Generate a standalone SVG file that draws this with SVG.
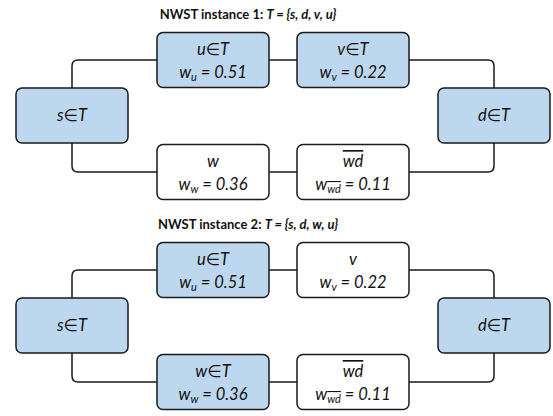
<svg xmlns="http://www.w3.org/2000/svg" width="553" height="416" viewBox="0 0 553 416">
<style>
.t{fill:#fff;stroke:#1a1a1a;stroke-width:1.5}
.b{fill:#BDD7EE;stroke:#1a1a1a;stroke-width:1.5}
.c{fill:none;stroke:#1a1a1a;stroke-width:1.5}
.x{font-family:Lato,"Liberation Sans","DejaVu Sans",sans-serif;font-style:italic;font-size:16.5px;fill:#111;text-anchor:middle}
.s{font-size:11px}
.h{font-family:Lato,"Liberation Sans",sans-serif;font-weight:bold;font-size:13px;fill:#111;text-anchor:middle}
.o{text-decoration:overline}
</style>
<rect width="553" height="416" fill="#fff"/>

<text class="h" x="248" y="19">NWST instance 1: <tspan font-style="italic">T = {s, d, v, u}</tspan></text>
<g id="conn1">
<path class="c" d="M72,88 V66 Q72,60 78,60 H157 M269,60 H297 M409,60 H488 Q494,60 494,66 V88 M72,143 V166 Q72,172 78,172 H157 M269,172 H297 M409,172 H488 Q494,172 494,166 V143"/>
</g>
<g id="i1-s"><rect class="b" x="16" y="88" width="112" height="55" rx="6"/><text class="x" x="72" y="121">s∈T</text></g>
<g id="i1-d"><rect class="b" x="438" y="88" width="112" height="55" rx="6"/><text class="x" x="494" y="121">d∈T</text></g>
<g id="i1-u"><rect class="b" x="157" y="32.5" width="112" height="55" rx="6"/><text class="x" x="213" y="55">u∈T</text><text class="x" x="213" y="78">w<tspan class="s" dy="3">u</tspan><tspan dy="-3"> = 0.51</tspan></text></g>
<g id="i1-v"><rect class="b" x="297" y="32.5" width="112" height="55" rx="6"/><text class="x" x="353" y="55">v∈T</text><text class="x" x="353" y="78">w<tspan class="s" dy="3">v</tspan><tspan dy="-3"> = 0.22</tspan></text></g>
<g id="i1-w"><rect class="t" x="157" y="144.5" width="112" height="55" rx="6"/><text class="x" x="213" y="167">w</text><text class="x" x="213" y="190">w<tspan class="s" dy="3">w</tspan><tspan dy="-3"> = 0.36</tspan></text></g>
<g id="i1-wd"><rect class="t" x="297" y="144.5" width="112" height="55" rx="6"/><text class="x" x="353" y="167"><tspan class="o">wd</tspan></text><text class="x" x="353" y="190">w<tspan class="s o" dy="3">wd</tspan><tspan dy="-3"> = 0.11</tspan></text></g>

<text class="h" x="248" y="229">NWST instance 2: <tspan font-style="italic">T = {s, d, w, u}</tspan></text>
<g id="conn2">
<path class="c" d="M72,298 V276 Q72,270 78,270 H157 M269,270 H297 M409,270 H488 Q494,270 494,276 V298 M72,353 V376 Q72,382 78,382 H157 M269,382 H297 M409,382 H488 Q494,382 494,376 V353"/>
</g>
<g id="i2-s"><rect class="b" x="16" y="298" width="112" height="55" rx="6"/><text class="x" x="72" y="331">s∈T</text></g>
<g id="i2-d"><rect class="b" x="438" y="298" width="112" height="55" rx="6"/><text class="x" x="494" y="331">d∈T</text></g>
<g id="i2-u"><rect class="b" x="157" y="242.5" width="112" height="55" rx="6"/><text class="x" x="213" y="265">u∈T</text><text class="x" x="213" y="288">w<tspan class="s" dy="3">u</tspan><tspan dy="-3"> = 0.51</tspan></text></g>
<g id="i2-v"><rect class="t" x="297" y="242.5" width="112" height="55" rx="6"/><text class="x" x="353" y="265">v</text><text class="x" x="353" y="288">w<tspan class="s" dy="3">v</tspan><tspan dy="-3"> = 0.22</tspan></text></g>
<g id="i2-w"><rect class="b" x="157" y="354.5" width="112" height="55" rx="6"/><text class="x" x="213" y="377">w∈T</text><text class="x" x="213" y="400">w<tspan class="s" dy="3">w</tspan><tspan dy="-3"> = 0.36</tspan></text></g>
<g id="i2-wd"><rect class="t" x="297" y="354.5" width="112" height="55" rx="6"/><text class="x" x="353" y="377"><tspan class="o">wd</tspan></text><text class="x" x="353" y="400">w<tspan class="s o" dy="3">wd</tspan><tspan dy="-3"> = 0.11</tspan></text></g>
</svg>
